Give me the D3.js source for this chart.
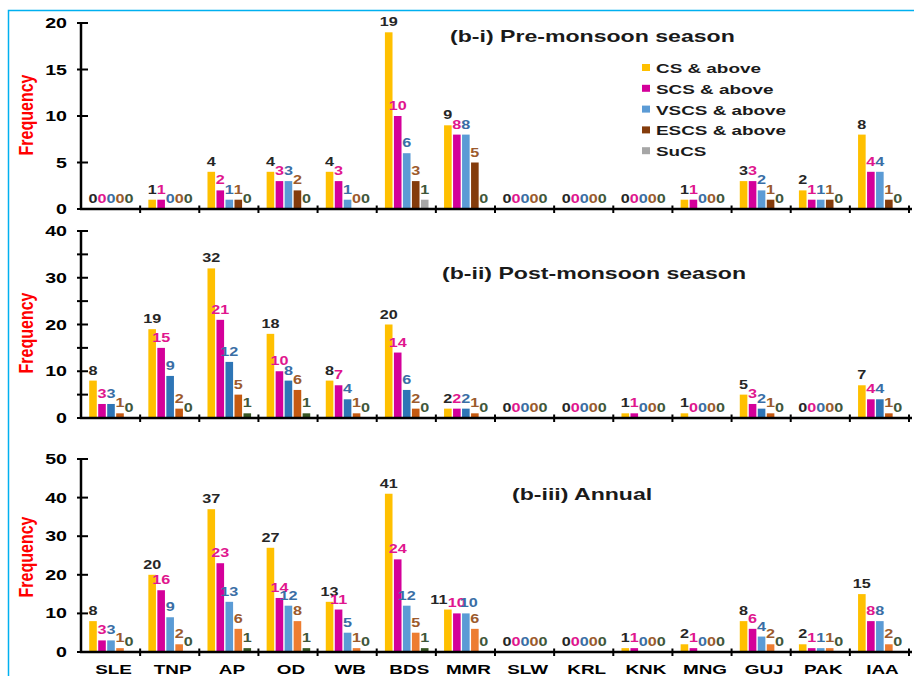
<!DOCTYPE html>
<html><head><meta charset="utf-8">
<script src="https://cdn.jsdelivr.net/npm/d3@7"></script>
<style>html,body{margin:0;padding:0;background:#fff;}svg{display:block;}</style>
</head><body>
<script>
const categories = ["SLE","TNP","AP","OD","WB","BDS","MMR","SLW","KRL","KNK","MNG","GUJ","PAK","IAA"];
const seriesNames = ["CS & above","SCS & above","VSCS & above","ESCS & above","SuCS"];

const preCS   = [0,1,4,4,4,19,9,0,0,0,1,3,2,8];
const preSCS  = [0,1,2,3,3,10,8,0,0,0,1,3,1,4];
const preVSCS = [0,0,1,3,1,6,8,0,0,0,0,2,1,4];
const preESCS = [0,0,1,2,0,3,5,0,0,0,0,1,1,1];
const preSuCS = [0,0,0,0,0,1,0,0,0,0,0,0,0,0];

const postCS   = [8,19,32,18,8,20,2,0,0,1,1,5,0,7];
const postSCS  = [3,15,21,10,7,14,2,0,0,1,0,3,0,4];
const postVSCS = [3,9,12,8,4,6,2,0,0,0,0,2,0,4];
const postESCS = [1,2,5,6,1,2,1,0,0,0,0,1,0,1];
const postSuCS = [0,0,1,1,0,0,0,0,0,0,0,0,0,0];

const annCS   = [8,20,37,27,13,41,11,0,0,1,2,8,2,15];
const annSCS  = [3,16,23,14,11,24,10,0,0,1,1,6,1,8];
const annVSCS = [3,9,13,12,5,12,10,0,0,0,0,4,1,8];
const annESCS = [1,2,6,8,1,5,6,0,0,0,0,2,1,2];
const annSuCS = [0,0,1,1,0,1,0,0,0,0,0,0,0,0];

const panelTitles = ["(b-i) Pre-monsoon season","(b-ii) Post-monsoon season","(b-iii) Annual"];
const yMax = [20,40,50];
const yTickStep = [5,5,10];
const yLabelStep = [5,10,10];

const panels = [
  {title:panelTitles[0], data:[preCS,preSCS,preVSCS,preESCS,preSuCS], max:yMax[0], tstep:yTickStep[0], lstep:yLabelStep[0],
   y0:209, yTop:23, colors:["#FFC000","#D4009A","#5B9BD5","#843C0C","#A6A6A6"], tx:450, ty:42, fy:115},
  {title:panelTitles[1], data:[postCS,postSCS,postVSCS,postESCS,postSuCS], max:yMax[1], tstep:yTickStep[1], lstep:yLabelStep[1],
   y0:418, yTop:231, colors:["#FFC000","#D4009A","#2E75B6","#C55A11","#375623"], tx:442, ty:279, fy:333},
  {title:panelTitles[2], data:[annCS,annSCS,annVSCS,annESCS,annSuCS], max:yMax[2], tstep:yTickStep[2], lstep:yLabelStep[2],
   y0:652, yTop:459, colors:["#FFC000","#D4009A","#5B9BD5","#ED7D31","#375623"], tx:512, ty:500, fy:557}
];
const labelColors = ["#262626","#E0168E","#3A6EA5","#9C5A2C","#3F573A"];
// manual label nudges (panel, series, category) -> dx, as in the reference
const labelNudge = {"2-0-6":-9, "2-2-6":3};

const W = 914, H = 676, SX = 1.4;
const FONT = "'Liberation Sans', Arial, sans-serif";
const svg = d3.select("body").append("svg").attr("width",W).attr("height",H);

// border
svg.append("path").attr("d","M8.5,680 L8.5,10.5 L920,10.5").attr("fill","none").attr("stroke","#00B0F0").attr("stroke-width",1.5);

const x = d3.scaleBand().domain(categories).range([81,909]).padding(0);
const x1 = d3.scaleBand().domain(d3.range(5)).range([7.5,52.5]).padding(0);

function stext(g, xx, yy, txt, opts){
  return g.append("text").attr("transform",`translate(${xx},${yy}) scale(${opts.sx||SX},1)`)
    .attr("font-family",FONT).attr("font-weight",opts.weight||"bold").attr("font-size",opts.size)
    .attr("fill",opts.fill||"#000").attr("text-anchor",opts.anchor||"start").text(txt);
}

panels.forEach((p,pi)=>{
  const g = svg.append("g");
  const y = d3.scaleLinear().domain([0,p.max]).range([p.y0,p.yTop]);

  p.data.forEach((vals,si)=>{
    g.selectAll(null).data(vals).join("rect")
      .attr("x",(d,i)=>x(categories[i])+x1(si)+0.7)
      .attr("width",x1.bandwidth()-1.4)
      .attr("y",d=>y(d))
      .attr("height",d=>p.y0-y(d))
      .attr("fill",p.colors[si]);
  });
  p.data.forEach((vals,si)=>{
    vals.forEach((v,i)=>{
      const dx = labelNudge[`${pi}-${si}-${i}`]||0;
      stext(g, x(categories[i])+x1(si)+x1.bandwidth()/2+dx, y(v)-6, String(v),
        {size:12, fill:labelColors[si], anchor:"middle", sx:1.35});
    });
  });

  g.append("line").attr("x1",81).attr("x2",81).attr("y1",p.yTop).attr("y2",p.y0+1)
    .attr("stroke","#000").attr("stroke-width",2.5);
  d3.range(0,p.max+0.001,p.tstep).forEach(t=>{
    g.append("line").attr("x1",77).attr("x2",88).attr("y1",y(t)).attr("y2",y(t))
      .attr("stroke","#000").attr("stroke-width",2);
  });
  d3.range(0,p.max+0.001,p.lstep).forEach(t=>{
    stext(g, 67, y(t)+5, String(t), {size:14, anchor:"end"});
  });
  g.append("line").attr("x1",80).attr("x2",912).attr("y1",p.y0).attr("y2",p.y0)
    .attr("stroke","#000").attr("stroke-width",2.5);
  categories.forEach((c)=>{
    const xx = x(c)+x.bandwidth();
    g.append("line").attr("x1",xx).attr("x2",xx).attr("y1",p.y0-3.5).attr("y2",p.y0+4)
      .attr("stroke","#000").attr("stroke-width",2);
  });

  stext(g, p.tx, p.ty, p.title, {size:16.5, fill:"#1a1a1a"});

  g.append("text").attr("transform",`translate(33,${p.fy}) scale(1.3,1) rotate(-90)`)
    .attr("font-family",FONT).attr("font-weight","bold").attr("font-size",16)
    .attr("fill","#FF0000").attr("text-anchor","middle").text("Frequency");
});

categories.forEach(c=>{
  stext(svg, x(c)+x.bandwidth()/2+3, 674, c, {size:13.5, anchor:"middle"});
});

const legendColors = panels[0].colors;
seriesNames.forEach((n,i)=>{
  const cy = 68 + i*20.8;
  svg.append("rect").attr("x",642).attr("y",cy-4).attr("width",8).attr("height",7).attr("fill",legendColors[i]);
  stext(svg, 656, cy+5, n, {size:13.5, fill:"#1a1a1a"});
});
</script>
</body></html>
